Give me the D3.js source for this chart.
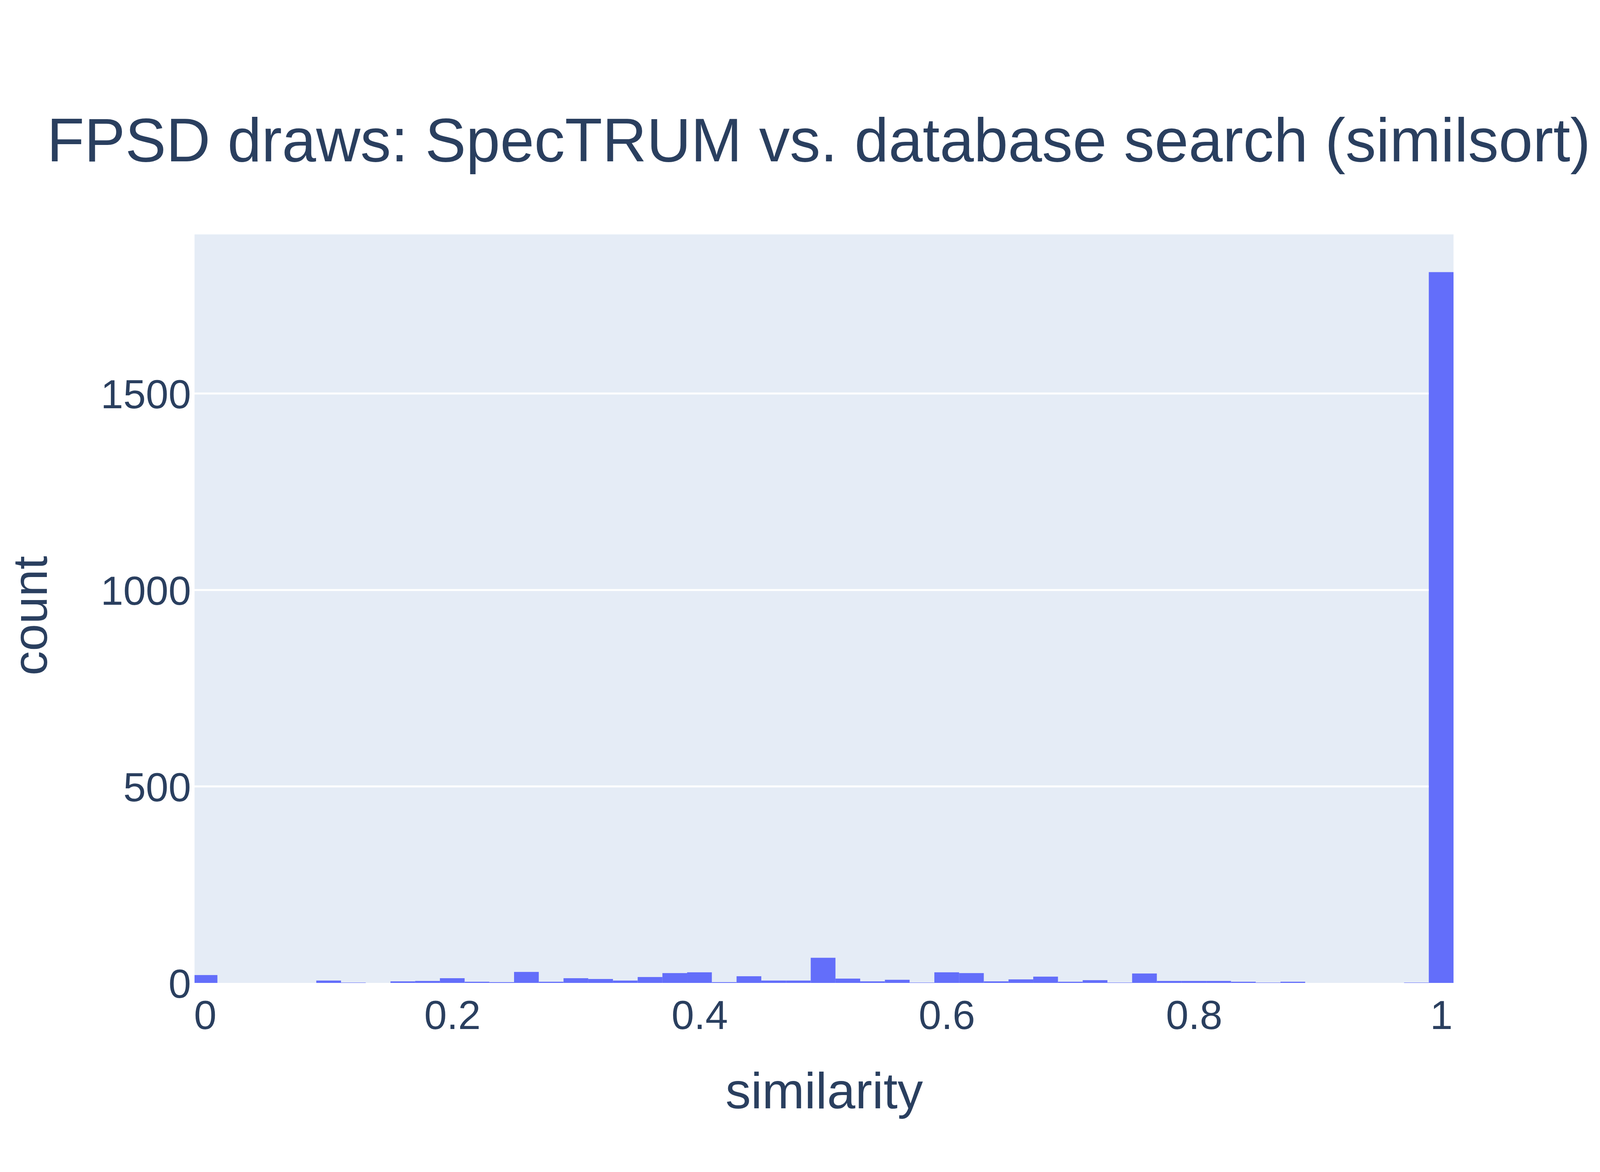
<!DOCTYPE html>
<html>
<head>
<meta charset="utf-8">
<script src="https://cdn.jsdelivr.net/npm/d3@7"></script>
<style>
  body { margin: 0; background: #fff; }
  text { font-family: "Liberation Sans", Arial, sans-serif; fill: #2a3f5f; }
</style>
</head>
<body>
<svg id="chart" width="4200" height="3000"></svg>
<script>
// bin centres step 0.02 from 0 to 1 (51 bins), counts
const binStart = -0.01;
const binSize = 0.02;
const counts = [
  20, 0, 0, 0, 0, 6, 1, 0, 4, 5,
  12, 3, 2, 28, 3, 12, 10, 6, 15, 25,
  27, 2, 17, 6, 6, 64, 11, 4, 8, 1,
  27, 25, 4, 9, 16, 3, 7, 1, 24, 5,
  5, 5, 3, 1, 3, 0, 0, 0, 0, 1,
  1809
];
const xTicks = [0, 0.2, 0.4, 0.6, 0.8, 1];
const yTicks = [0, 500, 1000, 1500];

const width = 4200, height = 3000;
const margin = { top: 600, bottom: 484, left: 498, right: 479 };
const boundsWidth = width - margin.left - margin.right;
const boundsHeight = height - margin.top - margin.bottom;

const svg = d3.select("#chart");

const scaleX = d3.scaleLinear().domain([-0.0085, 1.01]).range([0, boundsWidth]);
const scaleY = d3.scaleLinear().domain([0, 1905]).range([boundsHeight, 0]);

const g = svg.append("g").attr("transform", `translate(${margin.left},${margin.top})`);

g.append("rect")
  .attr("width", boundsWidth).attr("height", boundsHeight)
  .attr("fill", "#e5ecf6");

// gridlines
g.selectAll(".grid").data(yTicks.filter(d => d > 0)).enter()
  .append("line")
  .attr("x1", 0).attr("x2", boundsWidth)
  .attr("y1", d => scaleY(d)).attr("y2", d => scaleY(d))
  .attr("stroke", "#fff").attr("stroke-width", 5);

// bars
const bins = counts.map((c, i) => ({ x0: binStart + i * binSize, x1: binStart + (i + 1) * binSize, c }));
g.selectAll(".bar").data(bins.filter(b => b.c > 0)).enter()
  .append("rect")
  .attr("class", "bar")
  .attr("x", d => Math.max(scaleX(d.x0), 0))
  .attr("width", d => Math.min(scaleX(d.x1), boundsWidth) - Math.max(scaleX(d.x0), 0))
  .attr("y", d => scaleY(d.c))
  .attr("height", d => boundsHeight - scaleY(d.c))
  .attr("fill", "#636efa");

// axes
const xAxis = d3.axisBottom(scaleX).tickValues(xTicks).tickSize(0).tickPadding(118).tickFormat(d3.format("~g"));
g.append("g").attr("transform", `translate(0,${boundsHeight})`).call(xAxis)
  .call(a => a.select(".domain").remove())
  .selectAll("text").style("font-size", "104px").attr("fill", "#2a3f5f").attr("dy", 0);

const yAxis = d3.axisLeft(scaleY).tickValues(yTicks).tickSize(0).tickPadding(9).tickFormat(d3.format("d"));
g.append("g").call(yAxis)
  .call(a => a.select(".domain").remove())
  .selectAll("text").style("font-size", "104px").attr("fill", "#2a3f5f").attr("dy", "0.36em");

// titles
svg.append("text")
  .attr("x", 2096).attr("y", 413).attr("text-anchor", "middle")
  .style("font-size", "157px")
  .text("FPSD draws: SpecTRUM vs. database search (similsort)");

svg.append("text")
  .attr("x", 2110).attr("y", 2837).attr("text-anchor", "middle")
  .style("font-size", "130px")
  .text("similarity");

svg.append("text")
  .attr("transform", "translate(120,1576) rotate(-90)")
  .attr("text-anchor", "middle")
  .style("font-size", "125px")
  .text("count");
</script>
</body>
</html>
